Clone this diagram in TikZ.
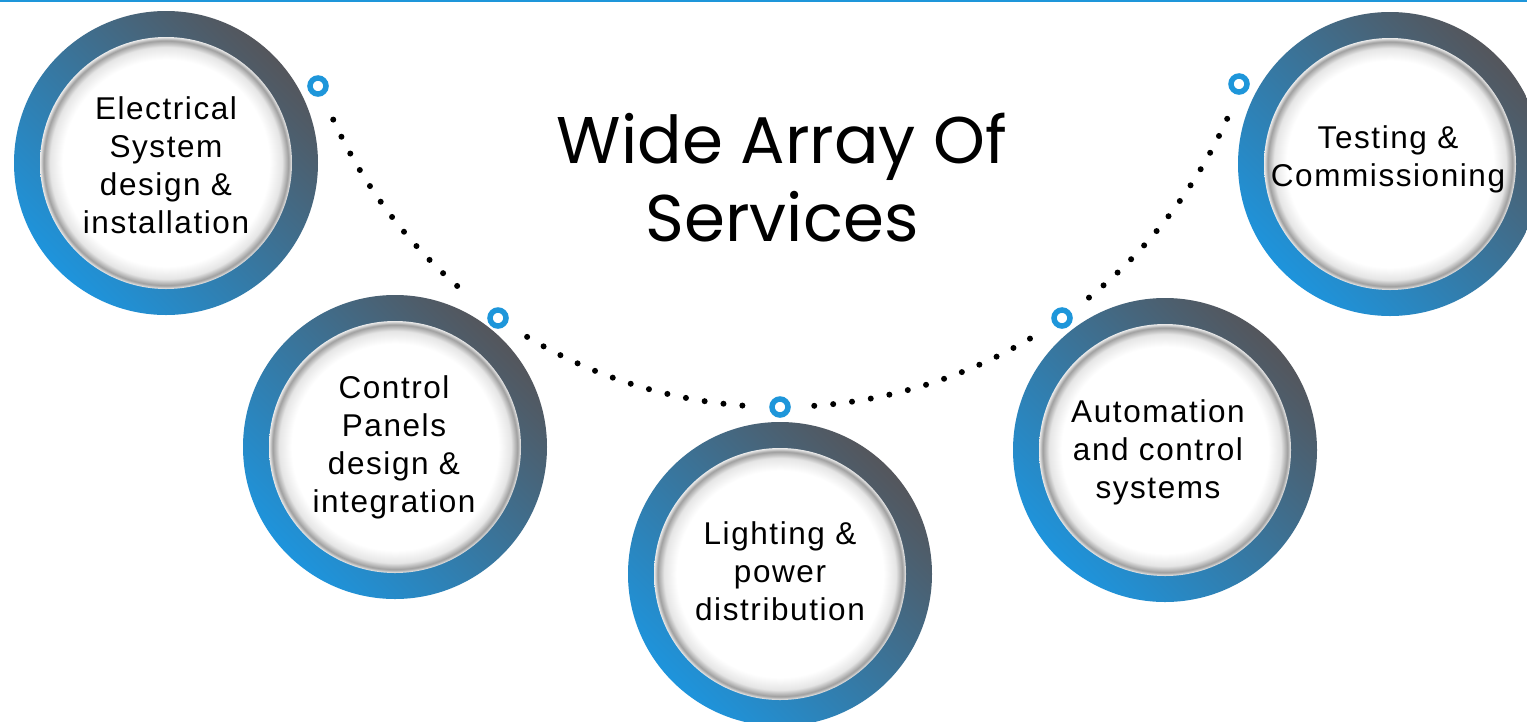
\documentclass[tikz,border=0pt]{standalone}
\usepackage{fontspec}
\setmainfont{Liberation Sans}[LetterSpace=5]
\newfontfamily\titlefont{Poppins}
\definecolor{ringblue}{RGB}{30,148,220}
\definecolor{ringmid}{RGB}{58,112,148}
\definecolor{ringdark}{RGB}{84,86,92}
\definecolor{accent}{RGB}{30,150,218}
\pgfdeclareradialshading{whitedisc}{\pgfpoint{0bp}{0bp}}{color(0bp)=(white); color(20.5bp)=(white); color(23bp)=(black!10); color(24.3bp)=(black!38); color(24.7bp)=(black!20); color(25bp)=(black!8); color(50bp)=(black!8)}
\tikzset{
  ringfill/.style={shading=axis, top color=ringdark, middle color=ringmid, bottom color=ringblue, shading angle=-45},
  disc/.style={shading=whitedisc},
  svctext/.style={align=center, font=\fontsize{31.5}{38}\selectfont, text=black, inner sep=0pt},
  marker/.style={draw=accent, line width=5.5pt, fill=white, circle, minimum size=16pt, inner sep=0pt},
  dotline/.style={line width=6pt, line cap=round, dash pattern=on 0pt off 19pt, black},
}
\begin{document}
\begin{tikzpicture}[x=1pt,y=1pt]
\useasboundingbox (0,0) rectangle (1527,-721);
\clip (0,0) rectangle (1527,-721);
\fill[white] (0,0) rectangle (1527,-721);
\draw[accent, line width=2pt] (0,-0.5) -- (1527,-0.5);
% big circles
\foreach \cx/\cy in {166/-163, 395/-447, 780/-574, 1165/-450, 1390/-164}{
  \shade[ringfill] (\cx,\cy) circle (152);
  \shade[disc] (\cx,\cy) circle (126);
}
% arc centre and markers
\coordinate (arcc) at (780,84);
\node[marker] (m1) at (318,-86) {};
\node[marker] (m2) at (498,-318) {};
\node[marker] (m3) at (780,-407) {};
\node[marker] (m4) at (1062,-318) {};
\node[marker] (m5) at (1239,-84) {};
% dotted arc segments between markers
\draw[dotline] (arcc) ++(204.5:491) arc[start angle=204.5, end angle=231, radius=491];
\draw[dotline] (arcc) ++(239:491) arc[start angle=239, end angle=266, radius=491];
\draw[dotline] (arcc) ++(274:491) arc[start angle=274, end angle=301, radius=491];
\draw[dotline] (arcc) ++(309:491) arc[start angle=309, end angle=336, radius=491];
% title
\node[align=center, font=\titlefont\fontsize{66}{78}\selectfont, inner sep=0pt] (title) at (782,-178) {Wide Array Of\\Services};
% texts
\node[svctext] (t1) at (166,-165) {Electrical\\System\\design \&\\installation};
\node[svctext] (t2) at (394,-447) {Control\\Panels\\design \&\\integration};
\node[svctext] (t3) at (780,-571) {Lighting \&\\power\\distribution};
\node[svctext] (t4) at (1158,-452) {Automation\\and control\\systems};
\node[svctext] (t5) at (1388,-159) {Testing \&\\Commissioning};
\end{tikzpicture}
\end{document}
